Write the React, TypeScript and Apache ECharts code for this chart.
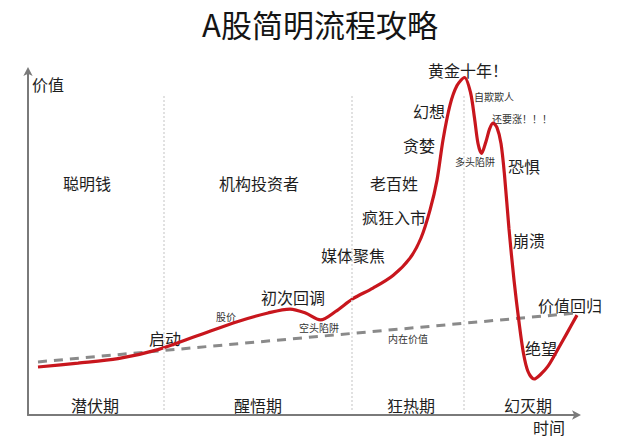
import React, { useEffect, useRef } from "react";
import * as echarts from "echarts";

// Price curve (time, value)
const priceX = [2, 10, 18, 26, 34, 42, 48, 52.4, 55.5, 58.5, 61.5, 65, 69, 73, 76.4, 78.6, 80.4, 81.8, 83, 84.4, 85.8, 87.3, 88.5, 89.3, 90, 90.7, 91.6, 92.3, 93, 93.8, 94.6, 95.3, 96.2, 97.2, 98.2, 99.1, 100, 101.2, 102.5, 104, 105.5, 107.8, 109.8];
const priceY = [16, 17.3, 18.8, 21.8, 26.5, 31.2, 34, 35.3, 34, 31.7, 34.5, 38.8, 42.3, 46.5, 52.3, 59, 68.3, 78.3, 91.7, 103.3, 109.8, 112.5, 107.5, 99, 90.5, 87.2, 91.2, 95.3, 97.3, 95.8, 90.5, 80, 62, 45, 31, 20.5, 14.5, 12, 13.5, 16.3, 20.5, 27.3, 33.3];

// Intrinsic value trend line
const valueX = [2, 109.8];
const valueY = [17.7, 34];

// Phase dividers (time)
const dividers = [27.2, 64.8, 87.2];
const dividerRange = [1.7, 106.7];

const titleText = "A股简明流程攻略";
const yName = "价值";
const xName = "时间";
const phases = ["潜伏期", "醒悟期", "狂热期", "幻灭期"];
const investors = ["聪明钱", "机构投资者", "老百姓"];
const bigNotes = ["黄金十年！", "幻想", "贪婪", "恐惧", "疯狂入市", "崩溃", "媒体聚焦", "初次回调", "启动", "价值回归", "绝望"];
const smallNotes = ["自欺欺人", "还要涨！！！", "多头陷阱", "股价", "空头陷阱", "内在价值"];

const FONT = '"Noto Sans CJK SC", "Noto Sans", sans-serif';

export default function App() {
  const ref = useRef<HTMLDivElement>(null);
  useEffect(() => {
    if (!ref.current) return;
    const chart = echarts.init(ref.current, undefined, { renderer: "svg" });

    const txt = (text: string, x: number, y: number, size: number, extra: any = {}) => ({
      type: "text",
      x,
      y,
      silent: true,
      style: {
        text,
        font: `${extra.weight || "normal"} ${size}px ${FONT}`,
        fill: extra.fill || "#1e1e1e",
        align: "center",
        verticalAlign: "middle",
      },
    });

    const phasePos = [[95, 405], [258, 405], [411, 405], [528, 405]];
    const investorPos = [[87, 183], [259, 183], [394, 183]];
    const bigPos = [[468, 70], [429, 111], [419, 145], [524, 166], [394, 217], [529, 240], [353, 255], [293, 297], [165, 338], [570, 305], [541, 348]];
    const smallPos = [[494, 96], [522, 118], [475, 161], [226, 316], [319, 327], [408, 338]];

    const graphics: any[] = [
      txt(titleText, 320, 23, 31, { fill: "#151515" }),
      txt(yName, 48, 84, 16),
      txt(xName, 549, 427, 16),
      ...phases.map((t, i) => txt(t, phasePos[i][0], phasePos[i][1], 16)),
      ...investors.map((t, i) => txt(t, investorPos[i][0], investorPos[i][1], 16)),
      ...bigNotes.map((t, i) => txt(t, bigPos[i][0], bigPos[i][1], 16)),
      ...smallNotes.map((t, i) => txt(t, smallPos[i][0], smallPos[i][1], 10, { fill: "#333" })),
    ];

    chart.setOption({
      animation: false,
      backgroundColor: "#ffffff",
      grid: { left: 28, right: 62, top: 70, bottom: 31 },
      xAxis: {
        type: "value",
        min: 0,
        max: 110,
        axisLine: {
          show: true,
          symbol: ["none", "arrow"],
          symbolSize: [7, 9],
          symbolOffset: [0, 3],
          lineStyle: { color: "#7a7a7a", width: 2 },
        },
        axisTick: { show: false },
        axisLabel: { show: false },
        splitLine: { show: false },
      },
      yAxis: {
        type: "value",
        min: 0,
        max: 115,
        axisLine: {
          show: true,
          symbol: ["none", "arrow"],
          symbolSize: [7, 9],
          symbolOffset: [0, 3],
          lineStyle: { color: "#7a7a7a", width: 2 },
        },
        axisTick: { show: false },
        axisLabel: { show: false },
        splitLine: { show: false },
      },
      series: [
        {
          type: "line",
          data: valueX.map((x, i) => [x, valueY[i]]),
          symbol: "none",
          lineStyle: { color: "#8a8a8a", width: 3, type: [9, 7] },
          silent: true,
          z: 2,
          markLine: {
            silent: true,
            symbol: ["none", "none"],
            label: { show: false },
            lineStyle: { color: "#d8d8d8", width: 1.5, type: [2, 2] },
            data: dividers.map((d) => [
              { coord: [d, dividerRange[0]] },
              { coord: [d, dividerRange[1]] },
            ]),
          },
        },
        {
          type: "line",
          data: priceX.map((x, i) => [x, priceY[i]]),
          symbol: "none",
          smooth: 0.3,
          lineStyle: { color: "#c8161d", width: 3.2 },
          silent: true,
          z: 3,
        },
      ],
      graphic: graphics,
    });
    return () => chart.dispose();
  }, []);
  return <div ref={ref} style={{ width: 640, height: 446, position: "fixed", left: 0, top: 0 }} />;
}
